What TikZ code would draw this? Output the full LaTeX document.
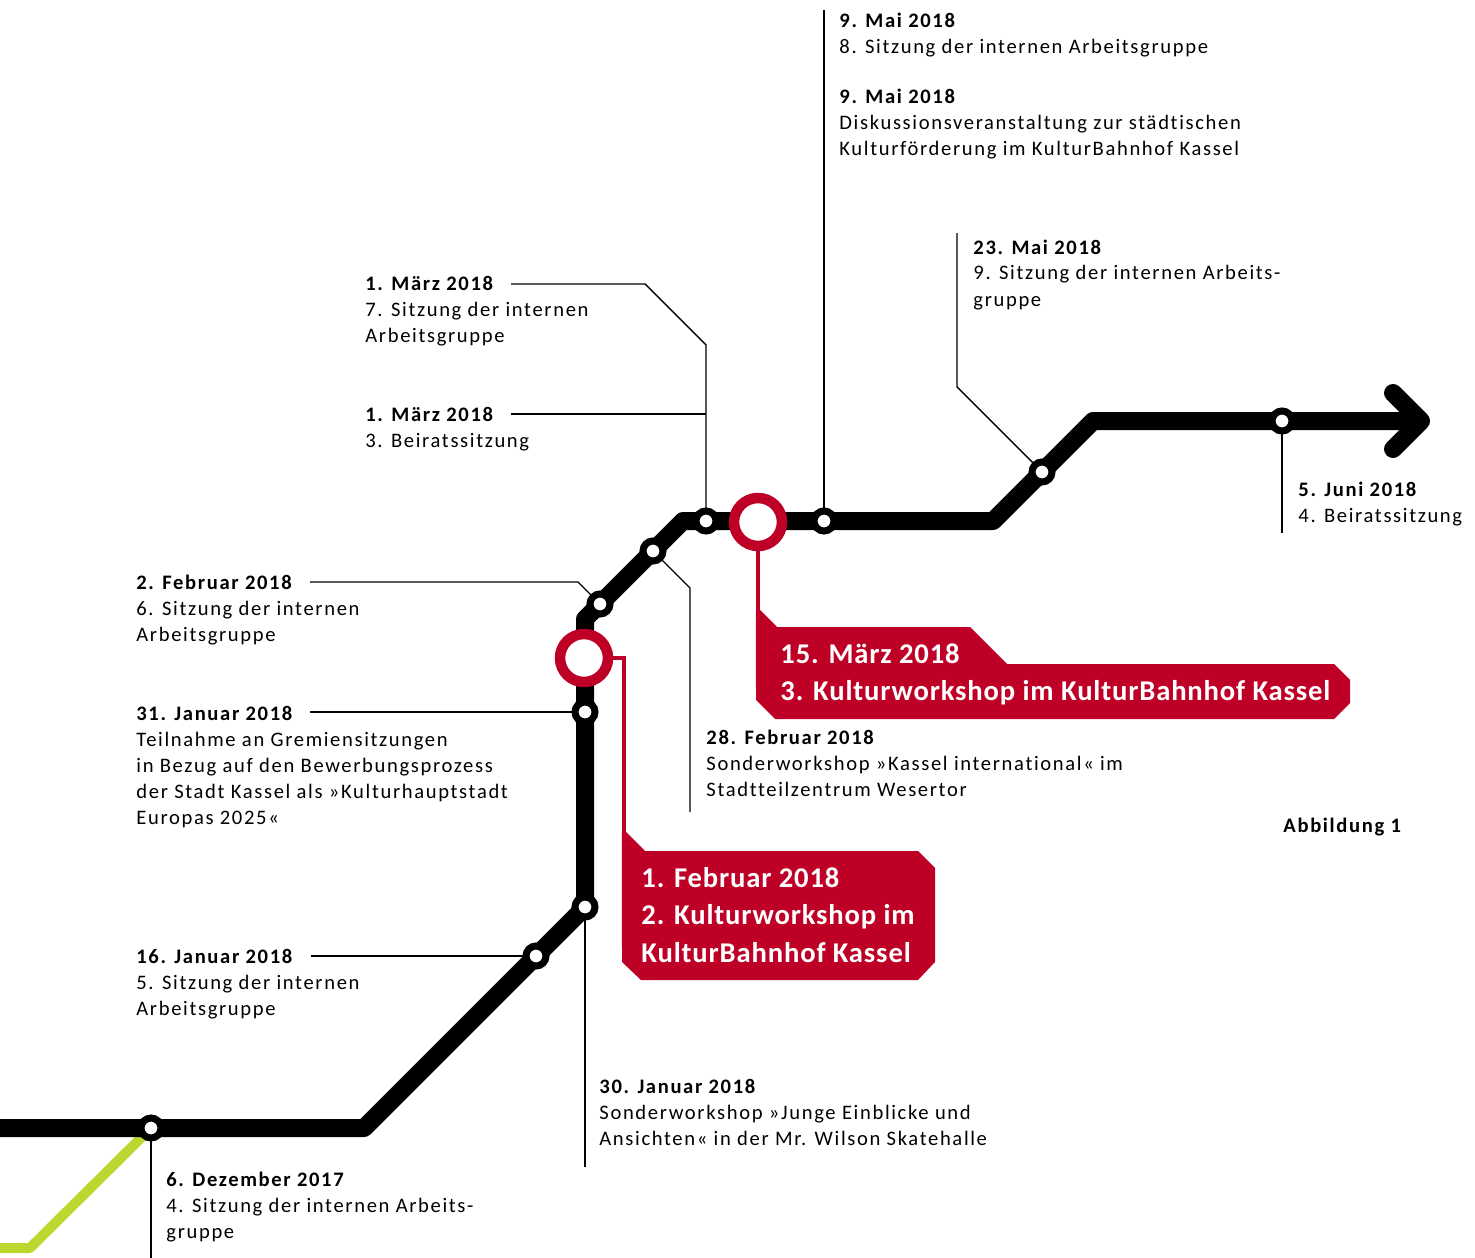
\documentclass[tikz,border=0pt]{standalone}
\usepackage{fontspec}
\setmainfont{Carlito}[LetterSpace=8, Ligatures=NoCommon]
\newfontfamily\boxfont{Carlito}[LetterSpace=3, Ligatures=NoCommon]
\definecolor{kred}{RGB}{190,0,39}
\definecolor{kgreen}{RGB}{190,214,48}
\pgfdeclarelayer{lines}
\pgfdeclarelayer{track}
\pgfsetlayers{lines,track,main}
\newcommand\evlab[2]{\begin{tabular}[t]{@{}l@{}}\textbf{#1}\\#2\end{tabular}}
\tikzset{
  stn/.style={circle, draw=black, fill=white, line width=3.5pt, minimum size=10pt, inner sep=0pt},
  bigstn/.style={circle, draw=kred, fill=white, line width=5.25pt, minimum size=24pt, inner sep=0pt},
  lbl/.style={anchor=base west, inner sep=0pt, font=\fontsize{10.3}{13}\selectfont},
  thinln/.style={line width=0.7pt, black},
  trk/.style={line width=9pt, line join=round, black},
  greenln/.style={line width=5pt, kgreen, line join=round},
  redln/.style={kred, line width=2.3pt},
  boxtxt/.style={anchor=base west, inner sep=0pt, text=white, font=\boxfont\bfseries\fontsize{14.3}{18.75}\selectfont}
}
\begin{document}
\begin{tikzpicture}[x=0.5pt,y=-0.5pt]
\useasboundingbox (0,0) rectangle (1475,1257);
% stations
\node[stn] (dez6) at (151,1128) {};
\node[stn] (jan16) at (536,956) {};
\node[stn] (jan30) at (585,907) {};
\node[stn] (jan31) at (585,712) {};
\node[bigstn] (feb1) at (584,658) {};
\node[stn] (feb2) at (600,604) {};
\node[stn] (feb28) at (653,551) {};
\node[stn] (mar1) at (706,521) {};
\node[bigstn] (mar15) at (758,522) {};
\node[stn] (mai9) at (824,521) {};
\node[stn] (mai23) at (1042,472) {};
\node[stn] (jun5) at (1282,421) {};
% track coordinates
\coordinate (t0) at (0,1128);
\coordinate (t1) at (364,1128);
\coordinate (t3) at (585,619);
\coordinate (t4) at (683,521);
\coordinate (t5) at (993,521);
\coordinate (t6) at (1093,421);
\coordinate (tip) at (1421,421);
\coordinate (ah1) at (1393,393);
\coordinate (ah2) at (1393,449);
\coordinate (g1) at (30,1248);
\coordinate (g0) at (-10,1248);
\begin{pgfonlayer}{track}
  \draw[greenln] (dez6.center) -- (g1) -- (g0);
  \draw[trk] (t0) -- (t1) -- (jan30.center) -- (t3) -- (t4) -- (t5) -- (t6) -- (tip);
  \draw[trk, line cap=round] (ah1) -- (tip) -- (ah2);
  % red callouts
  \coordinate (rf1) at (624,658);
  \coordinate (rf2) at (624,834);
  \draw[redln] (feb1.center) -- (rf1) -- (rf2);
  \fill[kred] (621.9,832) -- (626.1,832) -- (645,851) -- (918,851) -- (935,868) -- (935,962) -- (918,980) -- (641,980) -- (622,962) -- cycle;
  \coordinate (rm1) at (758,612);
  \draw[redln] (mar15.center) -- (rm1);
  \fill[kred] (755.9,610) -- (760.1,610) -- (777,627) -- (970,627) -- (1007,664) -- (1334,664) -- (1350,680) -- (1350,703) -- (1334,719) -- (775,719) -- (756,700) -- cycle;
\end{pgfonlayer}
% thin leader lines
\coordinate (l9) at (824,10);
\coordinate (la1) at (511,284);
\coordinate (la2) at (645,284);
\coordinate (la3) at (706,345);
\coordinate (lb1) at (511,414);
\coordinate (lb2) at (706,414);
\coordinate (lf1) at (310,582);
\coordinate (lf2) at (578,582);
\coordinate (lj31) at (310,712);
\coordinate (lj16) at (311,956);
\coordinate (lf28a) at (690,588);
\coordinate (lf28b) at (690,812);
\coordinate (lj30) at (585,1167);
\coordinate (ld6) at (151,1262);
\coordinate (lm23a) at (957,387);
\coordinate (lm23b) at (957,233);
\coordinate (ljun) at (1282,533);
\begin{pgfonlayer}{lines}
  \draw[thinln] (mai9.center) -- (l9);
  \draw[thinln] (la1) -- (la2) -- (la3) -- (mar1.center);
  \draw[thinln] (lb1) -- (lb2);
  \draw[thinln] (lf1) -- (lf2) -- (feb2.center);
  \draw[thinln] (lj31) -- (jan31.center);
  \draw[thinln] (lj16) -- (jan16.center);
  \draw[thinln] (feb28.center) -- (lf28a) -- (lf28b);
  \draw[thinln] (jan30.center) -- (lj30);
  \draw[thinln] (dez6.center) -- (ld6);
  \draw[thinln] (mai23.center) -- (lm23a) -- (lm23b);
  \draw[thinln] (jun5.center) -- (ljun);
\end{pgfonlayer}
% labels
\node[lbl] (tm9a) at (839,28) {\evlab{9. Mai 2018}{8. Sitzung der internen Arbeitsgruppe}};
\node[lbl] (tm9b) at (839,104) {\evlab{9. Mai 2018}{Diskussionsveranstaltung zur städtischen\\Kulturförderung im KulturBahnhof Kassel}};
\node[lbl] (tm23) at (973,254) {\evlab{23. Mai 2018}{9. Sitzung der internen Arbeits-\\gruppe}};
\node[lbl] (tmz1a) at (365,290) {\evlab{1. März 2018}{7. Sitzung der internen\\Arbeitsgruppe}};
\node[lbl] (tmz1b) at (365,421) {\evlab{1. März 2018}{3. Beiratssitzung}};
\node[lbl] (tf2) at (136,589) {\evlab{2. Februar 2018}{6. Sitzung der internen\\Arbeitsgruppe}};
\node[lbl] (tj31) at (136,720) {\evlab{31. Januar 2018}{Teilnahme an Gremiensitzungen\\in Bezug auf den Bewerbungsprozess\\der Stadt Kassel als »Kulturhauptstadt\\Europas 2025«}};
\node[lbl] (tj16) at (136,963) {\evlab{16. Januar 2018}{5. Sitzung der internen\\Arbeitsgruppe}};
\node[lbl] (tf28) at (706,744) {\evlab{28. Februar 2018}{Sonderworkshop »Kassel international« im\\Stadtteilzentrum Wesertor}};
\node[lbl] (tj30) at (599,1093) {\evlab{30. Januar 2018}{Sonderworkshop »Junge Einblicke und\\Ansichten« in der Mr. Wilson Skatehalle}};
\node[lbl] (td6) at (166,1186) {\evlab{6. Dezember 2017}{4. Sitzung der internen Arbeits-\\gruppe}};
\node[lbl] (tjun) at (1298,496) {\evlab{5. Juni 2018}{4. Beiratssitzung}};
\node[lbl] (tabb) at (1283,832) {\textbf{Abbildung 1}};
% red box texts
\node[boxtxt] (bx1) at (641,887) {\begin{tabular}[t]{@{}l@{}}1. Februar 2018\\2. Kulturworkshop im\\KulturBahnhof Kassel\end{tabular}};
\node[boxtxt] (bx2) at (780,663) {\begin{tabular}[t]{@{}l@{}}15. März 2018\\3. Kulturworkshop im KulturBahnhof Kassel\end{tabular}};
\end{tikzpicture}
\end{document}
